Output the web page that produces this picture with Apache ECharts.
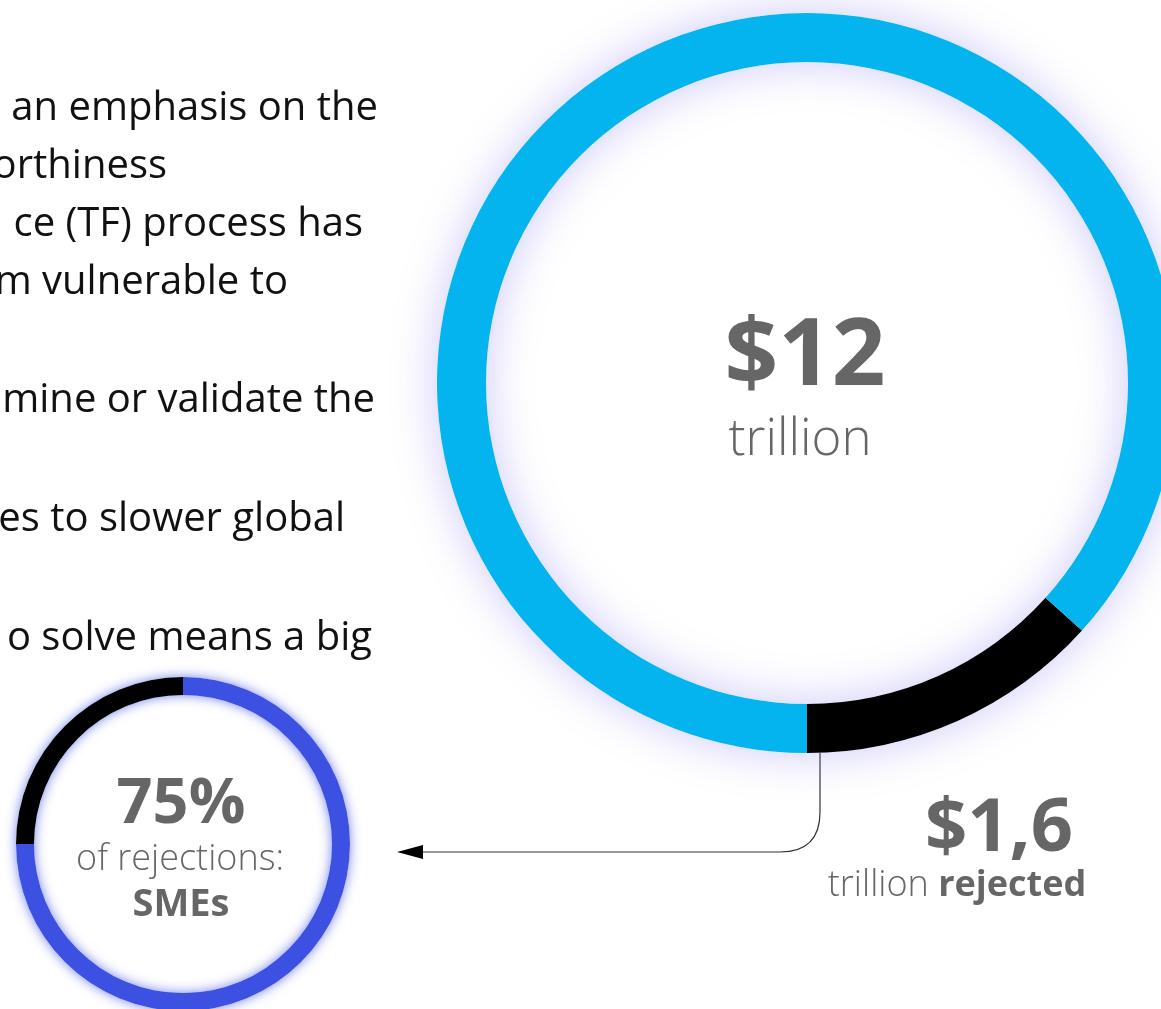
<!DOCTYPE html>
<html>
<head>
<meta charset="utf-8">
<script src="https://cdn.jsdelivr.net/npm/echarts@6/dist/echarts.min.js"></script>
<style>
  html, body { margin: 0; padding: 0; background: #fff; }
  #main { width: 1161px; height: 1009px; }
</style>
</head>
<body>
<div id="main"></div>
<script>
// trade finance, $ trillion
var tradeNames = ['rejected', 'approved'];
var tradeValues = [1.6, 10.4];
// share of rejections, %
var smeNames = ['SMEs', 'others'];
var smeValues = [75, 25];
// cut-off paragraph on the left
var bodyLines = [
  'h an emphasis on the',
  'orthiness',
  'ce (TF) process has',
  'm vulnerable to',
  'mine or validate the',
  'es to slower global',
  'o solve means a big'
];

var total = tradeValues.reduce(function (a, b) { return a + b; }, 0);
var totalLabel = '$' + Math.round(total);
var rejectedLabel = '$' + String(tradeValues[0]).replace('.', ',');
var smeLabel = smeValues[0] + '%';

// layout
var bigC = [807, 383], bigR = [321, 370];
var smallC = [183, 844], smallR = [149, 167];
var lineRight = [378, 167, 363, 288, 375, 345, 372];
var lineY = [109, 167, 225, 283, 401, 520, 639];
var grey = '#666666';
var FONT = "'Open Sans', 'Noto Sans', sans-serif";

var chart = echarts.init(document.getElementById('main'));

var graphics = [];
bodyLines.forEach(function (t, i) {
  graphics.push({
    type: 'text', x: lineRight[i], y: lineY[i], silent: true,
    style: { text: t, align: 'right', verticalAlign: 'middle', fontFamily: FONT, fontSize: 40, fill: '#111' }
  });
});

function centerText(txt, x, y, size, weight) {
  return {
    type: 'text', x: x, y: y, silent: true, z: 10,
    style: { text: txt, align: 'center', verticalAlign: 'middle', fontFamily: FONT, fontSize: size, fontWeight: weight, fill: grey }
  };
}
graphics.push(centerText(totalLabel, 805, 358, 94, 'bold'));
graphics.push(centerText('trillion', 800, 440, 51, 300));
graphics.push(centerText(rejectedLabel, 999, 830, 74, 'bold'));
graphics.push({
  type: 'text', x: 957, y: 886, silent: true, z: 10,
  style: {
    text: '{l|trillion }{b|' + tradeNames[0] + '}', align: 'center', verticalAlign: 'middle',
    rich: {
      l: { fontFamily: FONT, fontSize: 36, fontWeight: 300, fill: grey },
      b: { fontFamily: FONT, fontSize: 36, fontWeight: 'bold', fill: grey }
    }
  }
});
graphics.push(centerText(smeLabel, 181, 805, 63, 'bold'));
graphics.push(centerText('of rejections:', 180, 860, 36, 300));
graphics.push(centerText(smeNames[0], 181, 905, 38, 'bold'));

// connector from the rejected slice to the small ring
var lx = bigC[0] + 13;
var ly0 = bigC[1] + Math.sqrt(bigR[1] * bigR[1] - 13 * 13);
var hy = 852, rr = 40;
var connStyle = { stroke: '#333', lineWidth: 1.2, fill: null };
graphics.push({
  type: 'line', silent: true,
  shape: { x1: lx, y1: ly0, x2: lx, y2: hy - rr },
  style: connStyle
});
graphics.push({
  type: 'bezierCurve', silent: true,
  shape: { x1: lx, y1: hy - rr, cpx1: lx, cpy1: hy, x2: lx - rr, y2: hy },
  style: connStyle
});
graphics.push({
  type: 'line', silent: true,
  shape: { x1: lx - rr, y1: hy, x2: 420, y2: hy },
  style: connStyle
});
graphics.push({
  type: 'polygon', silent: true,
  shape: { points: [[397, hy], [423, hy - 7], [423, hy + 7]] },
  style: { fill: '#000' }
});

// a plain ring under each donut carries the glow, so it doesn't bleed over slice borders
function glowRing(center, radius, blur, color) {
  return {
    type: 'pie', silent: true, z: 1,
    center: center, radius: radius,
    label: { show: false }, labelLine: { show: false },
    itemStyle: { color: '#ffffff', shadowBlur: blur, shadowColor: color },
    data: [{ value: 1, name: 'glow' }]
  };
}

chart.setOption({
  backgroundColor: '#ffffff',
  animation: false,
  series: [
    glowRing(bigC, bigR, 45, 'rgba(120,110,235,0.38)'),
    glowRing(smallC, smallR, 12, 'rgba(60,80,235,0.7)'),
    {
      type: 'pie',
      silent: true,
      z: 2,
      center: bigC,
      radius: bigR,
      startAngle: -90,
      clockwise: false,
      label: { show: false },
      labelLine: { show: false },
      data: tradeNames.map(function (n, i) {
        return { name: n, value: tradeValues[i], itemStyle: { color: i === 0 ? '#000000' : '#03b4ee' } };
      })
    },
    {
      type: 'pie',
      silent: true,
      z: 2,
      center: smallC,
      radius: smallR,
      startAngle: 90,
      clockwise: true,
      label: { show: false },
      labelLine: { show: false },
      data: smeNames.map(function (n, i) {
        return { name: n, value: smeValues[i], itemStyle: { color: i === 0 ? '#3c50e2' : '#000000' } };
      })
    }
  ],
  graphic: graphics
});
</script>
</body>
</html>
